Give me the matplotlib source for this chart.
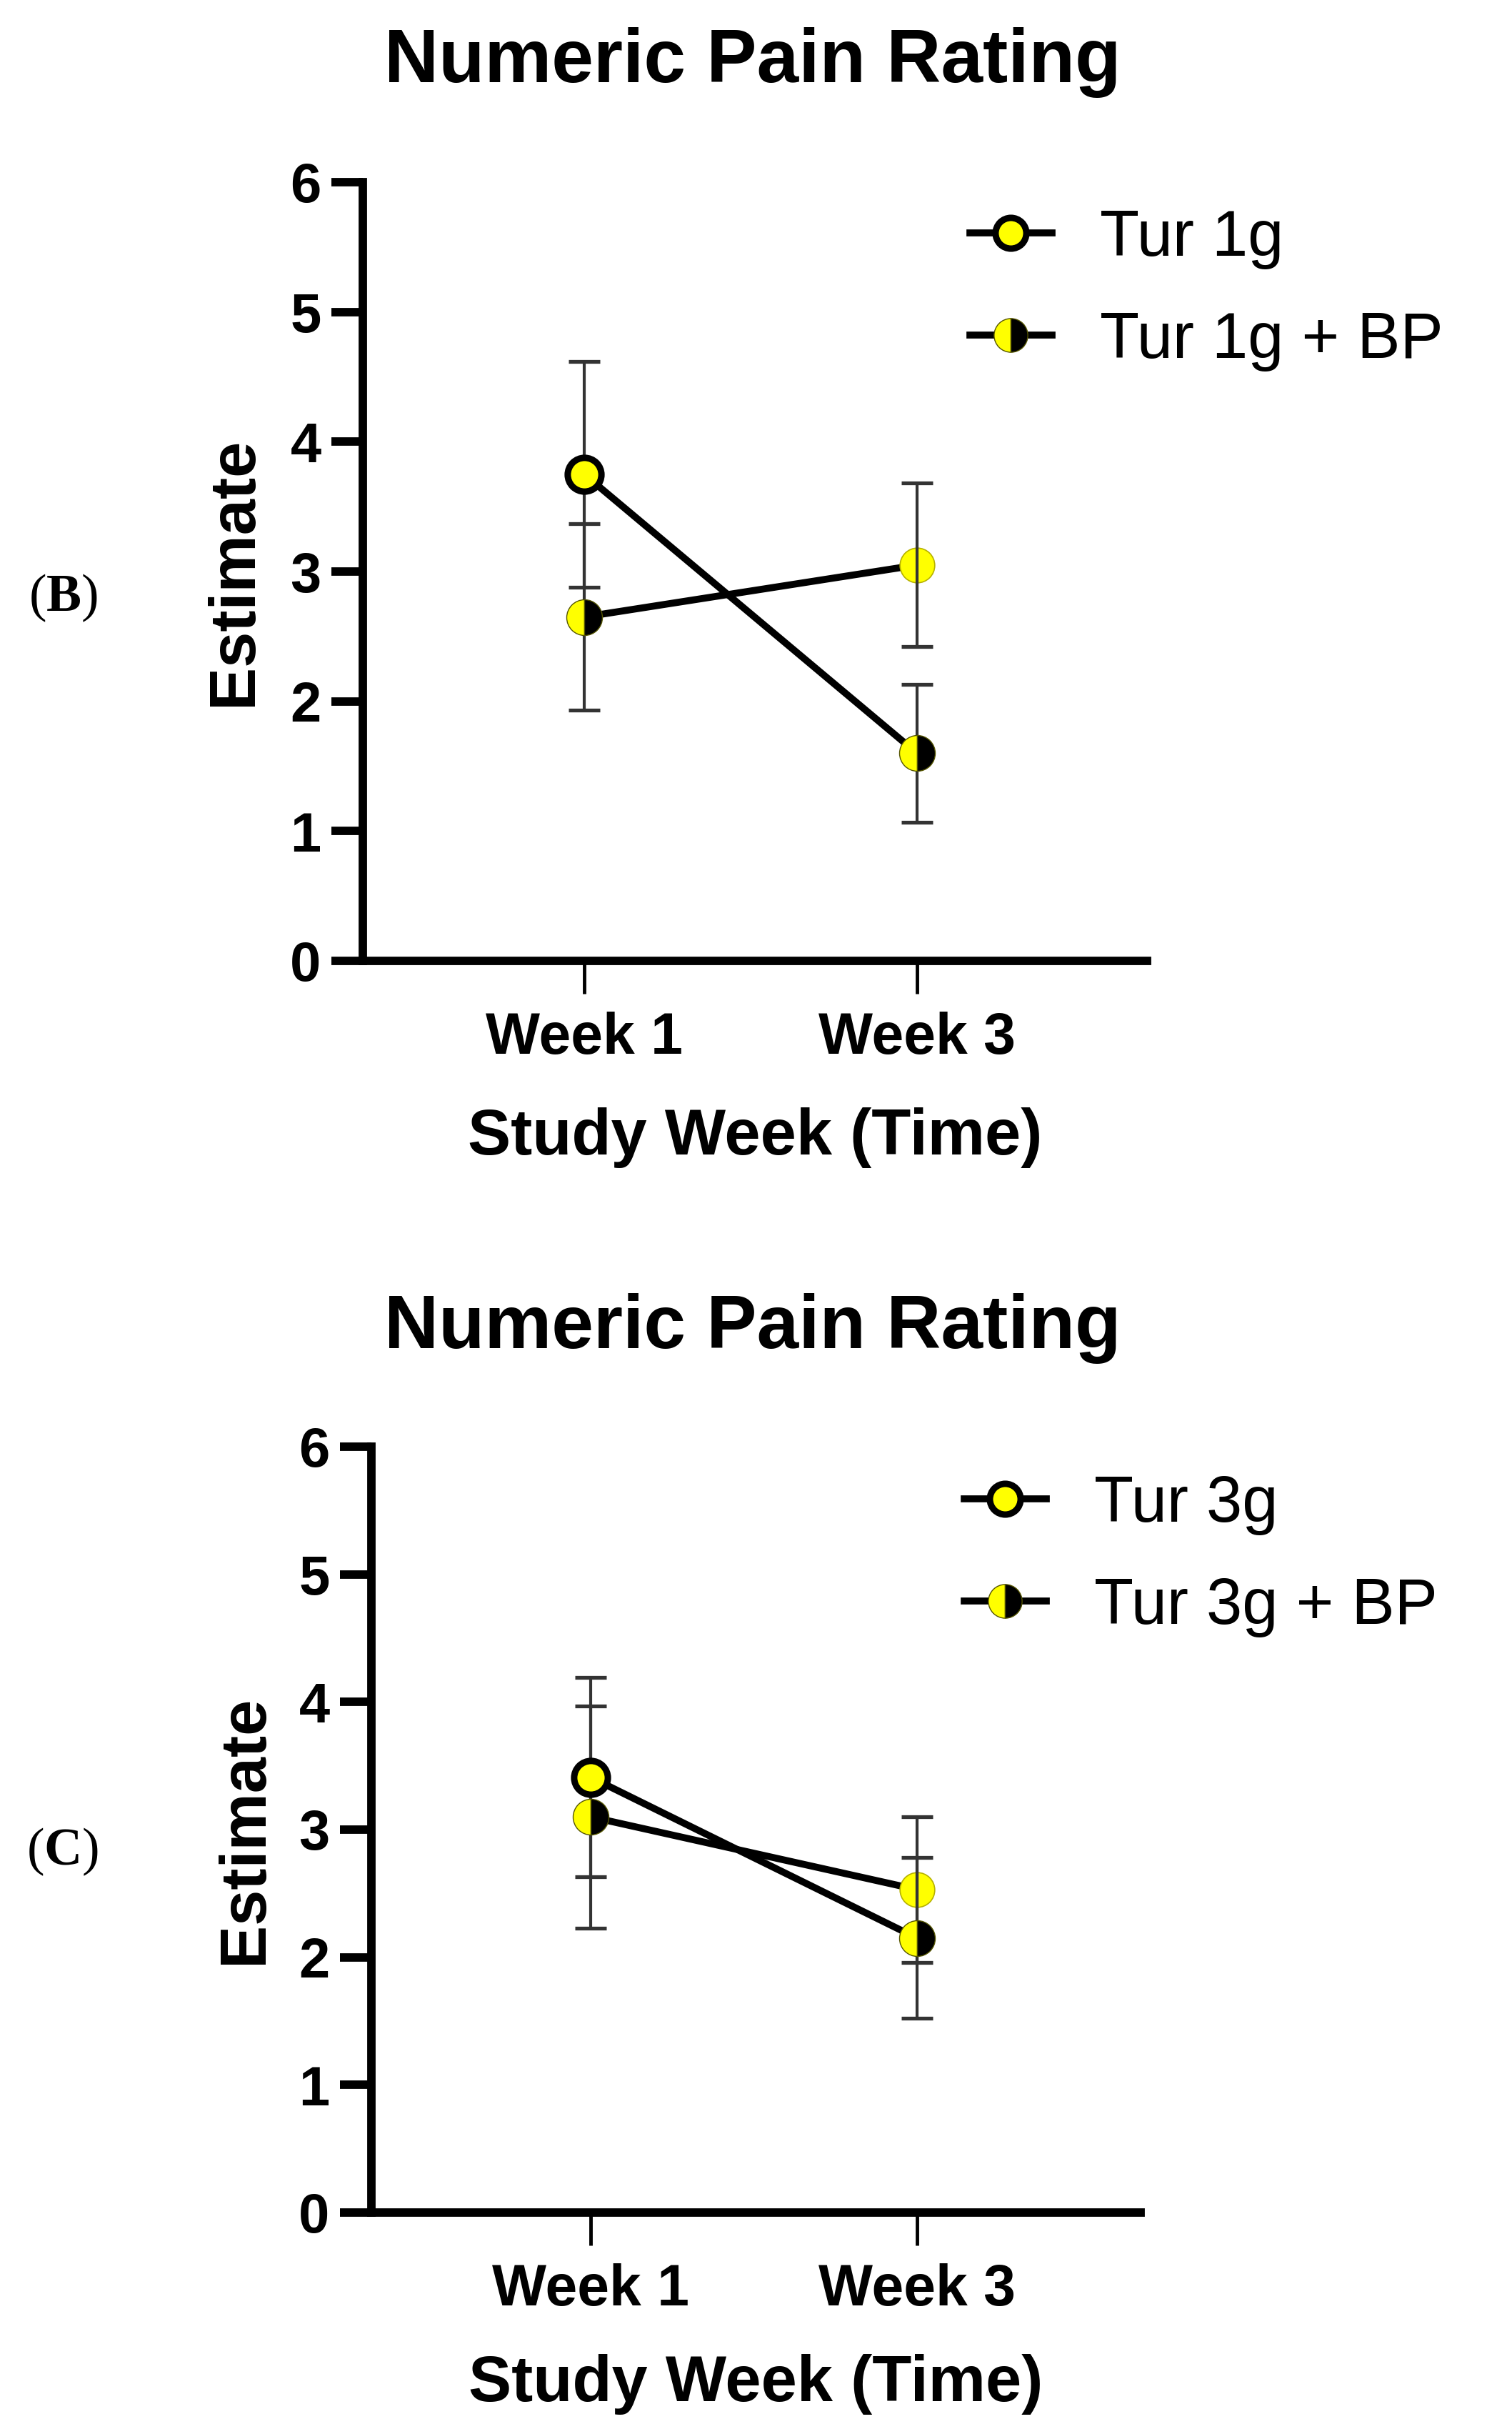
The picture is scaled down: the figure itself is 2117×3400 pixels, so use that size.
import matplotlib
matplotlib.use("Agg")
import matplotlib.pyplot as plt
from matplotlib.lines import Line2D

W, H = 2117, 3400
YELLOW = "#ffff00"

weeks = ["Week 1", "Week 3"]

# panel (B)
tur1_mean = [3.75, 3.05]
tur1_err = [0.87, 0.63]
tur1bp_mean = [2.65, 1.60]
tur1bp_err = [0.72, 0.53]

# panel (C)
tur3_mean = [3.41, 2.53]
tur3_err = [0.78, 0.57]
tur3bp_mean = [3.10, 2.15]
tur3bp_err = [0.87, 0.63]

plt.rcParams['font.family'] = 'Liberation Sans'
plt.rcParams['mathtext.fontset'] = 'custom'
plt.rcParams['mathtext.rm'] = 'Liberation Serif'
plt.rcParams['mathtext.bf'] = 'Liberation Serif:bold'


def px_box(left, right, top, bottom):
    # axes box from pixel edges of the picture
    return [left / W, 1 - bottom / H, (right - left) / W, (bottom - top) / H]


def draw_panel(ax, tur, tur_e, bp, bp_e, xlim):
    x = [0, 1]
    # connecting lines
    ax.plot(x, [tur[0], bp[1]], color='black', lw=7, zorder=2)
    ax.plot(x, [bp[0], tur[1]], color='black', lw=7, zorder=2)
    # error bars
    for m, e in [(tur, tur_e), (bp, bp_e)]:
        ax.errorbar(x, m, yerr=e, fmt='none', ecolor='#333333', elinewidth=3,
                    capsize=16, capthick=3.8, zorder=3, clip_on=False)
    # markers
    ax.plot(x[0], tur[0], 'o', ms=34, mfc=YELLOW, mec='black', mew=6.5, zorder=5)
    ax.plot(x[1], tur[1], 'o', ms=35, mfc=YELLOW, mec='#b5b000', mew=1.2, zorder=2.5)
    ax.plot(x, bp, 'o', ms=36, fillstyle='left', mfc=YELLOW, mfcalt='black',
            mec='#555500', mew=1.0, zorder=5)

    ax.set_xlim(*xlim)
    ax.set_ylim(0, 6)
    ax.set_xticks(x)
    ax.set_xticklabels(weeks, fontsize=58, fontweight='bold')
    ax.set_yticks(range(0, 7))
    ax.set_yticklabels([str(v) for v in range(0, 7)], fontsize=56, fontweight='bold')
    for side in ['top', 'right']:
        ax.spines[side].set_visible(False)
    for side in ['left', 'bottom']:
        ax.spines[side].set_linewidth(8.5)
    ax.tick_params(axis='y', width=8.5, length=32, pad=10)
    ax.tick_params(axis='x', width=3.5, length=33, pad=18)
    ax.set_ylabel('Estimate', fontsize=65, fontweight='bold')
    ax.set_xlabel('Study Week (Time)', fontsize=65, fontweight='bold')

    h1 = Line2D([], [], color='black', lw=7, marker='o', ms=31, mfc=YELLOW,
                mec='black', mew=6.5)
    h2 = Line2D([], [], color='black', lw=7, marker='o', ms=34, fillstyle='left',
                mfc=YELLOW, mfcalt='black', mec='#555500', mew=1.0)
    return [h1, h2]


fig = plt.figure(figsize=(W / 100, H / 100), dpi=100)

# ---- panel B
ax1 = fig.add_axes(px_box(508, 1606, 255, 1345))
hs = draw_panel(ax1, tur1_mean, tur1_err, tur1bp_mean, tur1bp_err, (-0.665, 1.691))
ax1.yaxis.set_label_coords(-0.125, 0.5)
ax1.xaxis.set_label_coords(0.5, -0.188)
ax1.legend(hs, ["Tur 1g", "Tur 1g + BP"], loc='upper left', frameon=False,
           fontsize=65, handlelength=1.27, handletextpad=0.75, labelspacing=0.64,
           borderpad=0, borderaxespad=0,
           bbox_to_anchor=(1358 / W, 1 - 292 / H), bbox_transform=fig.transFigure)
fig.text(1054 / W, 1 - 115 / H, 'Numeric Pain Rating', ha='center', va='baseline',
         fontsize=76, fontweight='bold')
fig.text(88 / W, 1 - 855 / H, r'($\mathbf{B}$)', ha='center', va='baseline',
         fontsize=53, family='Liberation Serif')

# ---- panel C
ax2 = fig.add_axes(px_box(520, 1597, 2025, 3097))
hs = draw_panel(ax2, tur3_mean, tur3_err, tur3bp_mean, tur3bp_err, (-0.672, 1.685))
ax2.yaxis.set_label_coords(-0.124, 0.5)
ax2.xaxis.set_label_coords(0.5, -0.185)
ax2.legend(hs, ["Tur 3g", "Tur 3g + BP"], loc='upper left', frameon=False,
           fontsize=65, handlelength=1.27, handletextpad=0.75, labelspacing=0.64,
           borderpad=0, borderaxespad=0,
           bbox_to_anchor=(1350 / W, 1 - 2064 / H), bbox_transform=fig.transFigure)
fig.text(1054 / W, 1 - 1887 / H, 'Numeric Pain Rating', ha='center', va='baseline',
         fontsize=76, fontweight='bold')
fig.text(88 / W, 1 - 2610 / H, r'($\mathbf{C}$)', ha='center', va='baseline',
         fontsize=53, family='Liberation Serif')

fig.savefig('out.png', dpi=100, facecolor='white')
